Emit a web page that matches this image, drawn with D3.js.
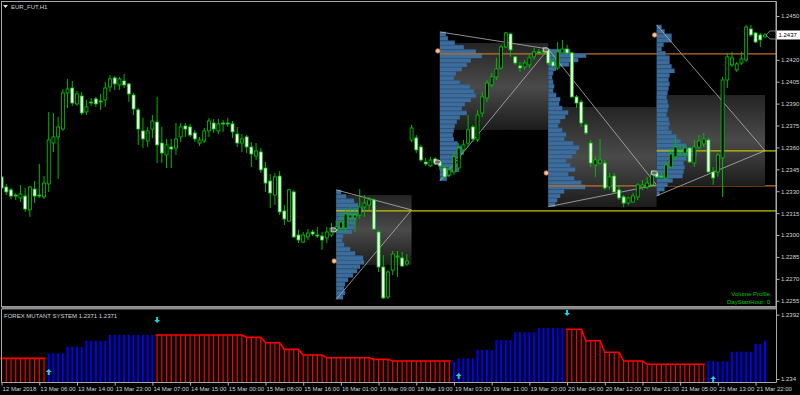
<!DOCTYPE html>
<html>
<head>
<meta charset="utf-8">
<script src="https://cdn.jsdelivr.net/npm/d3@7"></script>
<style>
  body { margin: 0; background: #000; }
  svg { display: block; }
</style>
</head>
<body>
<div id="chart"></div>
<script>
// ---- data ----
const priceTicks = [1.2450, 1.2435, 1.2420, 1.2405, 1.2390, 1.2375, 1.2360, 1.2345, 1.2330, 1.2315, 1.2300, 1.2285, 1.2270, 1.2255];
const subTicks = [1.2392, 1.2340];
const subTickLabels = ['1.2392', '1.234'];
const timeIdx = [0, 8, 16, 24, 32, 40, 48, 56, 64, 72, 80, 88, 96, 104, 112, 120, 128, 136, 144, 152, 160];
const timeLabels = ['12 Mar 2018', '13 Mar 06:00', '13 Mar 14:00', '13 Mar 23:00', '14 Mar 07:00', '14 Mar 15:00',
  '15 Mar 00:00', '15 Mar 08:00', '15 Mar 16:00', '16 Mar 01:00', '16 Mar 09:00', '18 Mar 19:00', '19 Mar 03:00',
  '19 Mar 11:00', '19 Mar 20:00', '20 Mar 04:00', '20 Mar 12:00', '20 Mar 21:00', '21 Mar 05:00', '21 Mar 13:00', '21 Mar 22:00'];

// H1 candles: [open, high, low, close]
const candles = [
  [1.23398,1.23411,1.23309,1.23322],[1.23329,1.23350,1.23274,1.23295],[1.23309,1.23322,1.23247,1.23267],[1.23274,1.23288,1.23240,1.23270],
  [1.23254,1.23343,1.23226,1.23281],[1.23267,1.23322,1.23158,1.23178],[1.23172,1.23336,1.23124,1.23329],[1.23315,1.23370,1.23219,1.23267],
  [1.23274,1.23487,1.23254,1.23270],[1.23261,1.23404,1.23247,1.23356],[1.23350,1.23843,1.23295,1.23651],[1.23630,1.23836,1.23569,1.23672],
  [1.23672,1.23809,1.23384,1.23740],[1.23726,1.24000,1.23713,1.23973],[1.23973,1.24069,1.23870,1.24000],[1.24007,1.24055,1.23884,1.23904],
  [1.23898,1.23987,1.23884,1.23966],[1.23952,1.23980,1.23822,1.23836],[1.23843,1.23925,1.23822,1.23877],[1.23911,1.23939,1.23884,1.23908],
  [1.23932,1.23946,1.23877,1.23898],[1.23918,1.23966,1.23857,1.23915],[1.23925,1.24048,1.23877,1.24007],[1.24014,1.24096,1.23980,1.24069],
  [1.24076,1.24089,1.23994,1.24035],[1.24028,1.24083,1.23994,1.24069],[1.24055,1.24103,1.24007,1.24028],[1.24035,1.24041,1.23911,1.23966],
  [1.23959,1.23973,1.23822,1.23863],[1.23857,1.23870,1.23617,1.23726],[1.23713,1.23802,1.23596,1.23658],[1.23644,1.23740,1.23603,1.23713],
  [1.23726,1.23822,1.23665,1.23781],[1.23774,1.23946,1.23493,1.23617],[1.23630,1.23740,1.23493,1.23562],[1.23548,1.23658,1.23459,1.23617],
  [1.23603,1.23658,1.23459,1.23589],[1.23596,1.23767,1.23548,1.23658],[1.23672,1.23767,1.23637,1.23740],[1.23747,1.23767,1.23672,1.23726],
  [1.23740,1.23761,1.23672,1.23685],[1.23699,1.23720,1.23637,1.23658],[1.23630,1.23672,1.23610,1.23651],[1.23644,1.23733,1.23630,1.23713],
  [1.23713,1.23802,1.23672,1.23781],[1.23767,1.23795,1.23699,1.23726],[1.23713,1.23795,1.23692,1.23761],[1.23767,1.23788,1.23706,1.23764],
  [1.23767,1.23802,1.23740,1.23764],[1.23761,1.23781,1.23665,1.23706],[1.23692,1.23740,1.23603,1.23630],[1.23630,1.23692,1.23569,1.23658],
  [1.23672,1.23685,1.23562,1.23603],[1.23603,1.23637,1.23466,1.23555],[1.23541,1.23630,1.23514,1.23576],[1.23569,1.23596,1.23425,1.23446],
  [1.23459,1.23500,1.23295,1.23356],[1.23370,1.23418,1.23185,1.23288],[1.23274,1.23425,1.23206,1.23398],[1.23404,1.23439,1.23137,1.23158],
  [1.23165,1.23206,1.23069,1.23110],[1.23096,1.23315,1.23089,1.23309],[1.23295,1.23309,1.22980,1.22987],[1.23000,1.23035,1.22945,1.22966],
  [1.22952,1.23021,1.22945,1.23000],[1.22987,1.23041,1.22966,1.23014],[1.23021,1.23035,1.22993,1.23007],[1.23000,1.23055,1.22980,1.22996],
  [1.22993,1.23021,1.22898,1.22966],[1.22980,1.23055,1.22945,1.23021],[1.23000,1.23082,1.22987,1.23048],[1.23035,1.23103,1.23014,1.23055],
  [1.23048,1.23151,1.23014,1.23089],[1.23048,1.23185,1.23014,1.23144],[1.23117,1.23199,1.23082,1.23137],[1.23117,1.23185,1.23021,1.23137],
  [1.23137,1.23315,1.23110,1.23192],[1.23192,1.23274,1.23124,1.23219],[1.23206,1.23261,1.23172,1.23240],[1.23240,1.23254,1.23035,1.23041],
  [1.23021,1.23035,1.22747,1.22781],[1.22781,1.22863,1.22562,1.22569],[1.22576,1.22760,1.22562,1.22747],[1.22760,1.22891,1.22726,1.22870],
  [1.22850,1.22891,1.22713,1.22856],[1.22843,1.22884,1.22781,1.22788],[1.22802,1.22870,1.22788,1.22822],[1.23651,1.23754,1.23637,1.23733],
  [1.23665,1.23685,1.23562,1.23583],[1.23603,1.23617,1.23500,1.23514],[1.23500,1.23528,1.23473,1.23487],[1.23473,1.23535,1.23466,1.23514],
  [1.23521,1.23535,1.23480,1.23493],[1.23500,1.23514,1.23446,1.23473],[1.23459,1.23480,1.23391,1.23398],[1.23411,1.23466,1.23398,1.23446],
  [1.23432,1.23562,1.23411,1.23535],[1.23459,1.23630,1.23432,1.23596],[1.23583,1.23651,1.23562,1.23617],[1.23630,1.23822,1.23603,1.23720],
  [1.23740,1.23754,1.23637,1.23658],[1.23651,1.23857,1.23637,1.23822],[1.23836,1.23980,1.23809,1.23946],[1.23939,1.24062,1.23911,1.24041],
  [1.24028,1.24110,1.24014,1.24083],[1.24083,1.24213,1.24062,1.24137],[1.24144,1.24302,1.24131,1.24288],[1.24288,1.24391,1.24281,1.24384],
  [1.24377,1.24384,1.24220,1.24268],[1.24220,1.24226,1.24165,1.24178],[1.24158,1.24185,1.24117,1.24144],[1.24151,1.24199,1.24131,1.24178],
  [1.24165,1.24247,1.24144,1.24213],[1.24220,1.24281,1.24199,1.24254],[1.24254,1.24274,1.24240,1.24250],[1.24247,1.24281,1.24233,1.24261],
  [1.24268,1.24281,1.24165,1.24178],[1.24185,1.24213,1.24151,1.24158],[1.24144,1.24322,1.24131,1.24254],[1.24247,1.24336,1.24247,1.24274],
  [1.24274,1.24302,1.24233,1.24247],[1.24247,1.24254,1.23939,1.23946],[1.23946,1.23959,1.23870,1.23904],[1.23911,1.23925,1.23740,1.23767],
  [1.23754,1.23767,1.23685,1.23699],[1.23630,1.23651,1.23466,1.23493],[1.23480,1.23535,1.23398,1.23514],[1.23493,1.23658,1.23480,1.23514],
  [1.23493,1.23514,1.23309,1.23322],[1.23329,1.23425,1.23309,1.23398],[1.23404,1.23425,1.23281,1.23295],[1.23309,1.23343,1.23240,1.23254],
  [1.23261,1.23274,1.23192,1.23219],[1.23219,1.23261,1.23206,1.23254],[1.23226,1.23288,1.23219,1.23267],[1.23261,1.23356,1.23240,1.23343],
  [1.23329,1.23377,1.23309,1.23343],[1.23329,1.23398,1.23315,1.23356],[1.23343,1.23446,1.23329,1.23425],[1.23425,1.23446,1.23391,1.23398],
  [1.23404,1.23432,1.23391,1.23400],[1.23391,1.23500,1.23377,1.23480],[1.23466,1.23596,1.23459,1.23555],[1.23535,1.23665,1.23514,1.23603],
  [1.23576,1.23617,1.23535,1.23572],[1.23562,1.23617,1.23528,1.23596],[1.23596,1.23603,1.23493,1.23500],[1.23493,1.23651,1.23466,1.23603],
  [1.23603,1.23685,1.23569,1.23644],[1.23624,1.23699,1.23603,1.23658],[1.23651,1.23665,1.23425,1.23432],[1.23432,1.23466,1.23343,1.23391],
  [1.23432,1.23562,1.23398,1.23548],[1.23528,1.24083,1.23261,1.24062],[1.24062,1.24247,1.24007,1.24220],[1.24165,1.24254,1.24151,1.24213],
  [1.24131,1.24185,1.24117,1.24172],[1.24178,1.24254,1.24165,1.24206],[1.24199,1.24439,1.24185,1.24425],[1.24411,1.24439,1.24357,1.24370],
  [1.24384,1.24391,1.24315,1.24322],[1.24370,1.24384,1.24288,1.24336],[1.24357,1.24384,1.24350,1.24370]
];

// volume profile (one per day, DayStartHour 0)
const dayStart = [71, 93, 116, 139];
const dayEnd = [87, 116, 139, 162];
const dayLastBar = [86, 115, 138, 162];
const profileTop = [1.23309, 1.24391, 1.24274, 1.24439];
const profileStep = 0.0003;
const profileA = [5, 10, 18, 22, 27, 22, 20, 19, 18, 16, 7, 6, 8, 14, 19, 27, 28, 24, 21, 17, 12, 9, 8, 9, 7];
const profileB = [6, 8, 15, 24, 36, 42, 31, 27, 22, 16, 14, 20, 30, 34, 36, 31, 25, 22, 27, 20, 17, 15, 14, 13, 14, 18, 23, 24, 21, 16, 19, 18, 10, 7];
const profileC = [22, 38, 30, 21, 8, 5, 4, 5, 6, 5, 8, 12, 11, 14, 20, 17, 12, 10, 14, 18, 16, 25, 31, 28, 24, 18, 22, 27, 20, 26, 33, 37, 16, 12, 9, 7];
const profileD = [5, 8, 15, 15, 7, 5, 9, 13, 13, 15, 18, 13, 12, 13, 12, 11, 10, 11, 12, 11, 10, 12, 13, 12, 15, 20, 24, 30, 36, 40, 30, 27, 28, 27, 26, 16, 11, 8, 3];
const profiles = [profileA, profileB, profileC, profileD];
const valueAreaHigh = [1.23274, 1.24315, 1.23877, 1.23959];
const valueAreaLow = [1.22795, 1.23720, 1.23192, 1.23336];
const levelPrices = [1.23165, 1.24240, 1.23336, 1.23576];
const levelColors = ['#c4c400', '#c0702a', '#c0702a', '#c4c400'];
const apexPrices = [1.23172, 1.24274, 1.23343, 1.23578];

// FOREX MUTANT SYSTEM histogram
const mutantValues = [
  1.23567,1.23567,1.23567,1.23567,1.23567,1.23567,1.23567,1.23567,1.23567,1.23567,
  1.23608,1.23608,1.23608,1.23608,1.23661,1.23661,1.23661,1.23661,
  1.23710,1.23710,1.23710,1.23710,1.23710,
  1.23756,1.23756,1.23756,1.23756,1.23756,1.23756,1.23756,1.23756,1.23756,1.23756,
  1.23756,1.23756,1.23756,1.23756,1.23756,1.23756,1.23756,1.23756,1.23756,1.23756,
  1.23756,1.23756,1.23756,1.23756,1.23756,1.23756,1.23756,1.23756,1.23756,
  1.23737,1.23737,1.23737,1.23737,1.23693,1.23693,1.23693,1.23693,
  1.23640,1.23640,1.23640,1.23640,1.23594,1.23594,1.23594,1.23594,1.23594,
  1.23572,1.23572,1.23572,1.23572,1.23572,1.23572,1.23572,1.23572,1.23572,1.23572,
  1.23559,1.23559,1.23559,1.23559,
  1.23546,1.23546,1.23546,1.23546,1.23546,1.23546,1.23546,1.23546,1.23546,1.23546,1.23546,1.23546,1.23546,
  1.23540,1.23567,1.23567,1.23567,1.23567,1.23634,1.23634,1.23634,1.23634,
  1.23715,1.23715,1.23715,1.23715,1.23778,1.23778,1.23778,1.23778,1.23778,
  1.23812,1.23812,1.23812,1.23812,1.23812,1.23812,
  1.23802,1.23802,1.23802,1.23802,1.23710,1.23710,1.23710,1.23710,
  1.23616,1.23616,1.23616,1.23616,1.23546,1.23546,1.23546,1.23546,1.23546,
  1.23519,1.23519,1.23519,1.23519,1.23519,1.23519,1.23519,1.23519,1.23519,1.23519,1.23519,1.23519,1.23519,
  1.23543,1.23543,1.23543,1.23543,1.23543,1.23621,1.23621,1.23621,1.23621,1.23621,
  1.23683,1.23683,1.23710
];
// R = down trend (red), B = up trend (blue)
const mutantTrend = (
  'RRRRRRRRRR' + 'BBBBBBBBBBBBBBBBBBBBBBB' +
  'RRRRRRRRRRRRRRRRRRRRRRRRRRRRRRRRRRRRRRRRRRRRRRRRRRRRRRRRRRRRRRR' +
  'BBBBBBBBBBBBBBBBBBBBBBBB' + 'RRRRRRRRRRRRRRRRRRRRRRRRRRRRRR' + 'BBBBBBBBBBBBB'
).split('');
const buyArrows = [[10, 1.23457], [97, 1.23424], [151, 1.23400]];
const sellArrows = [[33, 1.23877], [120, 1.23934]];

// ---- layout ----
const W = 800, H = 395;
const axisX = 776;
const font = "'Liberation Sans', Arial, sans-serif";

const x = d3.scaleLinear().domain([0, 162]).range([1.6, 765]);
const y = d3.scaleLinear().domain([1.22514, 1.24589]).range([306, 3]);
const ySub = d3.scaleLinear().domain([1.23376, 1.23958]).range([382, 310]);
const vol = d3.scaleLinear().domain([0, 40]).range([0, 40]);

const svg = d3.select('#chart').append('svg')
    .attr('width', W).attr('height', H)
    .style('background', '#000')
    .style('font-family', font);

const defs = svg.append('defs');
const grad = defs.append('linearGradient').attr('id', 'vaFill')
    .attr('x1', 0).attr('y1', 0).attr('x2', 0).attr('y2', 1);
[[0, '#242424'], [0.5, '#4a4a4a'], [1, '#1c1c1c']].forEach(([o, c]) =>
    grad.append('stop').attr('offset', o).attr('stop-color', c));
defs.append('clipPath').attr('id', 'mainClip')
    .append('rect').attr('x', 2).attr('y', 2).attr('width', axisX - 2).attr('height', 304);

const chart = svg.append('g').attr('clip-path', 'url(#mainClip)');

// Volume profiles, value areas and level lines
dayStart.forEach((s, d) => {
    const g = chart.append('g');
    const x0 = x(s), x1 = x(dayEnd[d]);
    g.append('rect')
        .attr('x', x0).attr('y', y(valueAreaHigh[d]))
        .attr('width', x1 - x0).attr('height', y(valueAreaLow[d]) - y(valueAreaHigh[d]))
        .attr('fill', 'url(#vaFill)');

    const rows = profiles[d].map((v, r) => ({ v, top: profileTop[d] - r * profileStep }));
    g.selectAll('rect.row').data(rows).join('rect')
        .attr('class', 'row')
        .attr('x', x0)
        .attr('y', r => y(r.top))
        .attr('width', r => vol(r.v))
        .attr('height', r => y(r.top - profileStep) - y(r.top))
        .attr('fill', '#3d6d9c');
    g.selectAll('line.sep').data(rows).join('line')
        .attr('class', 'sep')
        .attr('x1', x0).attr('x2', r => x0 + vol(r.v))
        .attr('y1', r => y(r.top) + 0.3).attr('y2', r => y(r.top) + 0.3)
        .attr('stroke', '#2b5178').attr('stroke-width', 0.7);

    g.append('line')
        .attr('x1', x0).attr('x2', axisX)
        .attr('y1', y(levelPrices[d])).attr('y2', y(levelPrices[d]))
        .attr('stroke', levelColors[d]).attr('stroke-width', 1.3);

    const pTop = profileTop[d], pBot = profileTop[d] - profiles[d].length * profileStep;
    [pTop, pBot].forEach(p => {
        g.append('line')
            .attr('x1', x0).attr('y1', y(p))
            .attr('x2', x1).attr('y2', y(apexPrices[d]))
            .attr('stroke', '#b4b4b4').attr('stroke-width', 0.8);
    });
});

// Candles
const bodyW = 3;
const cg = chart.append('g');
cg.selectAll('line').data(candles).join('line')
    .attr('x1', (d, i) => x(i)).attr('x2', (d, i) => x(i))
    .attr('y1', d => y(d[1])).attr('y2', d => y(d[2]))
    .attr('stroke', '#00b800').attr('stroke-width', 1);
cg.selectAll('rect').data(candles).join('rect')
    .attr('x', (d, i) => x(i) - bodyW / 2)
    .attr('y', d => y(Math.max(d[0], d[3])))
    .attr('width', bodyW)
    .attr('height', d => Math.max(1, Math.abs(y(d[0]) - y(d[3]))))
    .attr('fill', d => d[3] > d[0] ? '#000' : '#ffffff')
    .attr('stroke', '#00cc00').attr('stroke-width', 0.8);

// day open / close markers
const markers = chart.append('g');
dayStart.forEach((s, d) => {
    const mx = x(s) - 2;
    markers.append('circle')
        .attr('cx', mx).attr('cy', y(candles[dayLastBar[d]][3])).attr('r', 2.2)
        .attr('fill', '#f4c49c').attr('stroke', '#c87848').attr('stroke-width', 0.8);
    const oy = y(candles[s][0]);
    markers.append('path')
        .attr('d', `M${mx - 3},${oy - 2}L${mx + 1},${oy - 2}L${mx + 3},${oy}L${mx + 1},${oy + 2}L${mx - 3},${oy + 2}Z`)
        .attr('fill', '#6a6a6a').attr('stroke', '#e8e8e8').attr('stroke-width', 0.8);
});
const lastClose = candles[candles.length - 1][3];
{
    const lx = x(candles.length - 1) + 1, ly = y(lastClose);
    markers.append('path')
        .attr('d', `M${lx},${ly}L${lx + 4},${ly - 4}L${lx + 11},${ly - 4}L${lx + 11},${ly + 4}L${lx + 4},${ly + 4}Z`)
        .attr('fill', 'none').attr('stroke', '#9a9a9a').attr('stroke-width', 0.8);
}

// ---- indicator sub window ----
const sub = svg.append('g');
const base = ySub.range()[0];
sub.selectAll('line.bar').data(mutantValues).join('line')
    .attr('class', 'bar')
    .attr('x1', (d, i) => x(i)).attr('x2', (d, i) => x(i))
    .attr('y1', base).attr('y2', d => ySub(d))
    .attr('stroke', (d, i) => mutantTrend[i] === 'R' ? '#ff0000' : '#0000ff')
    .attr('stroke-width', (d, i) => mutantTrend[i] === 'R' ? 1.2 : 2);

// red step line over consecutive red bars
const redRuns = [];
mutantValues.forEach((v, i) => {
    if (mutantTrend[i] !== 'R') return;
    if (i === 0 || mutantTrend[i - 1] !== 'R') redRuns.push([]);
    redRuns[redRuns.length - 1].push([i, v]);
});
const redLine = d3.line().x(d => x(d[0])).y(d => ySub(d[1]));
sub.selectAll('path.run').data(redRuns).join('path')
    .attr('class', 'run')
    .attr('d', d => redLine([[d[0][0] - 0.3, d[0][1]], ...d, [d[d.length - 1][0] + 0.3, d[d.length - 1][1]]]))
    .attr('fill', 'none').attr('stroke', '#ff0000').attr('stroke-width', 1.6);

const arrowUp = 'M0,-3L3,0L1,0L1,3L-1,3L-1,0L-3,0Z';
const arrowDown = 'M0,3L3,0L1,0L1,-3L-1,-3L-1,0L-3,0Z';
sub.selectAll('path.buy').data(buyArrows).join('path')
    .attr('class', 'buy')
    .attr('transform', d => `translate(${x(d[0])},${ySub(d[1])})`)
    .attr('d', arrowUp).attr('fill', '#22cce0');
sub.selectAll('path.sell').data(sellArrows).join('path')
    .attr('class', 'sell')
    .attr('transform', d => `translate(${x(d[0])},${ySub(d[1])})`)
    .attr('d', arrowDown).attr('fill', '#22cce0');

// ---- frame ----
const frameColor = '#a8a8a8';
svg.append('rect').attr('x', 1.5).attr('y', 1.5).attr('width', axisX - 1.5).attr('height', 305)
    .attr('fill', 'none').attr('stroke', frameColor);
svg.append('rect').attr('x', 1.5).attr('y', 306.5).attr('width', axisX - 1.5).attr('height', 3)
    .attr('fill', '#8a8a8a');
svg.append('line').attr('x1', 1.5).attr('x2', 1.5).attr('y1', 309).attr('y2', 382.5).attr('stroke', frameColor);
svg.append('line').attr('x1', 1.5).attr('x2', axisX + 0.5).attr('y1', 382.5).attr('y2', 382.5).attr('stroke', frameColor);
svg.append('line').attr('x1', axisX + 0.5).attr('x2', axisX + 0.5).attr('y1', 1.5).attr('y2', 382.5).attr('stroke', frameColor);

// ---- axes ----
function styleAxis(g) {
    g.select('.domain').remove();
    g.attr('font-size', 6).attr('font-family', font);
    g.selectAll('.tick line').attr('stroke', '#b8b8b8');
    g.selectAll('.tick text').attr('fill', '#d4d4d4');
}
const lastClose4 = +lastClose.toFixed(4);
svg.append('g').attr('transform', `translate(${axisX + 0.5},0)`)
    // the tick label that sits under the current-price tag is hidden by it, as in the terminal
    .call(d3.axisRight(y).tickValues(priceTicks).tickSize(3).tickPadding(1.5)
        .tickFormat(d => Math.abs(d - lastClose4) < 0.0005 ? '' : d3.format('.4f')(d)))
    .call(styleAxis);
svg.append('g').attr('transform', `translate(${axisX + 0.5},0)`)
    .call(d3.axisRight(ySub).tickValues(subTicks).tickSize(3).tickPadding(1.5).tickFormat((d, i) => subTickLabels[i]))
    .call(styleAxis);
const tAxis = svg.append('g').attr('transform', 'translate(0,382.5)')
    .call(d3.axisBottom(x).tickValues(timeIdx).tickSize(3).tickPadding(1).tickFormat((d, i) => timeLabels[i]))
    .call(styleAxis);
tAxis.selectAll('.tick text').attr('text-anchor', 'start').attr('x', 0.5);

// current price tag
const tagY = y(lastClose);
svg.append('rect').attr('x', axisX + 1).attr('y', tagY - 4.5).attr('width', 23).attr('height', 9).attr('fill', '#fff');
svg.append('text').attr('x', axisX + 2.5).attr('y', tagY + 2.2)
    .attr('font-size', 6).attr('fill', '#000').text(d3.format('.4f')(lastClose));

// ---- labels ----
svg.append('path').attr('d', 'M3,5L8,5L5.5,8Z').attr('fill', '#e0e0e0');
svg.append('text').attr('x', 11).attr('y', 8.6).attr('font-size', 6).attr('fill', '#d4d4d4').text('EUR_FUT,H1');
svg.append('text').attr('x', 4).attr('y', 317.5).attr('font-size', 6).attr('fill', '#d4d4d4')
    .text(`FOREX MUTANT SYSTEM ${d3.format('.4f')(mutantValues[mutantValues.length - 1])} ${d3.format('.4f')(mutantValues[mutantValues.length - 1])}`);
svg.append('text').attr('x', 770).attr('y', 295.5).attr('text-anchor', 'end')
    .attr('font-size', 6).attr('fill', '#00c800').text('Volume Profile');
svg.append('text').attr('x', 770).attr('y', 303.8).attr('text-anchor', 'end')
    .attr('font-size', 6).attr('fill', '#00c800').text('DayStartHour: 0');
</script>
</body>
</html>
